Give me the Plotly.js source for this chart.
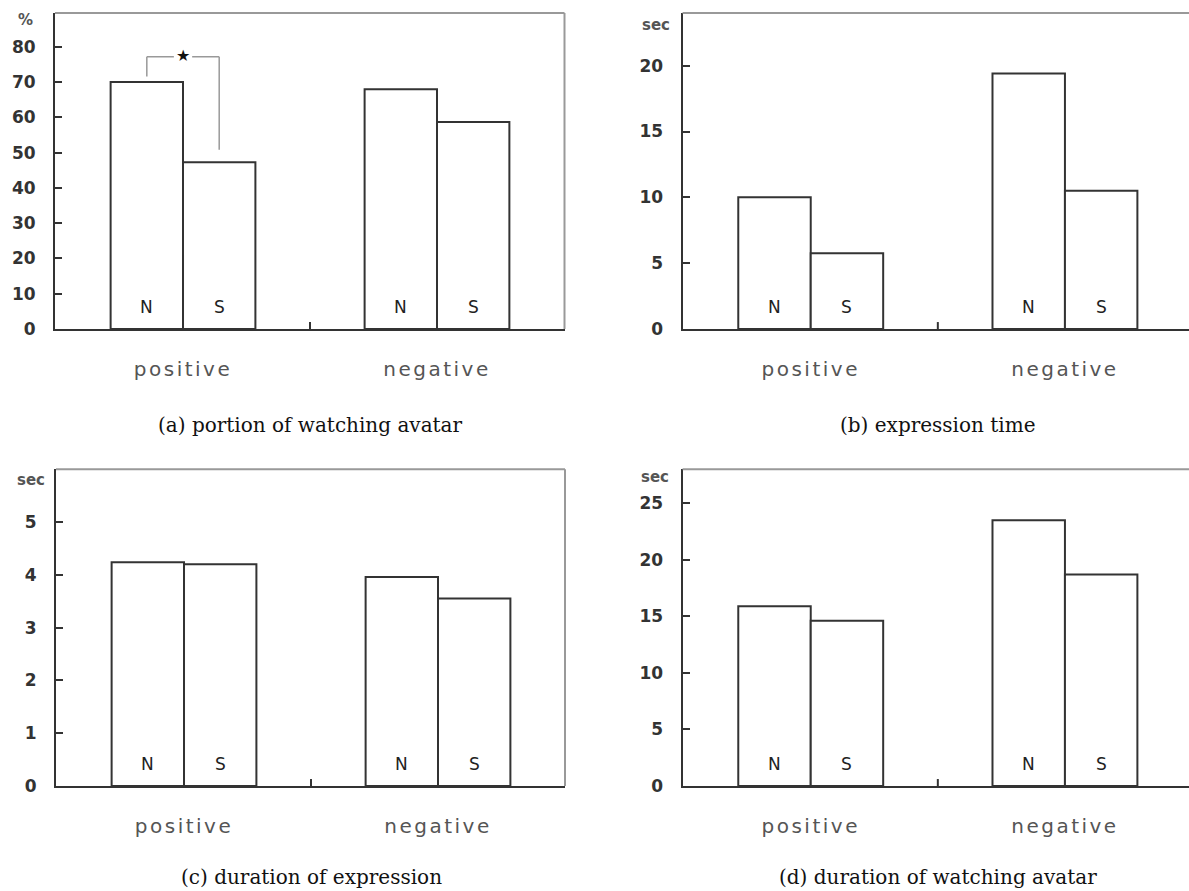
<!DOCTYPE html>
<html>
<head>
<meta charset="utf-8">
<script src="https://cdn.plot.ly/plotly-3.0.1.min.js"></script>
<style>
  html, body { margin: 0; padding: 0; background: #fff; }
  #chart { width: 1189px; height: 891px; }
  .xtick text, .x2tick text, .x3tick text, .x4tick text { letter-spacing: 2.5px; }
</style>
</head>
<body>
<div id="chart"></div>
<script>
// ---- data ----
const categories = ['positive', 'negative'];
const groupLabels = ['N', 'S'];

const portionN = [70.0, 68.0];     // (a) % watching avatar
const portionS = [47.3, 58.7];
const exprTimeN = [10.0, 19.4];    // (b) sec
const exprTimeS = [5.75, 10.5];
const exprDurN = [4.24, 3.96];     // (c) sec
const exprDurS = [4.20, 3.55];
const watchDurN = [15.9, 23.5];    // (d) sec
const watchDurS = [14.6, 18.7];

const unitLabels = ['%', 'sec', 'sec', 'sec'];
const captions = ['(a) portion of watching avatar', '(b) expression time',
                  '(c) duration of expression', '(d) duration of watching avatar'];
const yTicksA = [0, 10, 20, 30, 40, 50, 60, 70, 80];
const yTicksB = [0, 5, 10, 15, 20];
const yTicksC = [0, 1, 2, 3, 4, 5];
const yTicksD = [0, 5, 10, 15, 20, 25];

// ---- layout geometry (pixels) ----
const W = 1189, H = 891;
const BARGAP = 0.43;
const panels = [
  {N: portionN, S: portionS, ticks: yTicksA, xpx: [55, 564.5], ypx: [13, 329], xr: [-0.504, 1.502], yr: [0, 89.6], frameRight: true,
   unit: [25, 20], cap: [310, 425]},
  {N: exprTimeN, S: exprTimeS, ticks: yTicksB, xpx: [682.6, 1189], ypx: [13, 329], xr: [-0.504, 1.488], yr: [0, 24], frameRight: false,
   unit: [656, 25], cap: [938, 425]},
  {N: exprDurN, S: exprDurS, ticks: yTicksC, xpx: [56, 565], ypx: [469.3, 786], xr: [-0.504, 1.5], yr: [0, 6], frameRight: true,
   unit: [31, 480], cap: [311, 877]},
  {N: watchDurN, S: watchDurS, ticks: yTicksD, xpx: [682.6, 1189], ypx: [469.3, 786], xr: [-0.504, 1.488], yr: [0, 28], frameRight: false,
   unit: [655, 477], cap: [938, 877]}
];

const traces = [];
const layout = {
  width: W, height: H,
  margin: {l: 0, r: 0, t: 0, b: 0},
  paper_bgcolor: '#fff', plot_bgcolor: '#fff',
  showlegend: false,
  barmode: 'group', bargap: BARGAP, bargroupgap: 0,
  annotations: [], shapes: []
};

const barStyle = {color: '#ffffff', line: {color: '#333333', width: 2}};

panels.forEach((p, i) => {
  const k = i === 0 ? '' : String(i + 1);
  const xa = 'x' + k, ya = 'y' + k;
  traces.push({type: 'bar', x: categories, y: p.N, name: groupLabels[0], xaxis: xa, yaxis: ya, marker: barStyle, hoverinfo: 'x+y'});
  traces.push({type: 'bar', x: categories, y: p.S, name: groupLabels[1], xaxis: xa, yaxis: ya, marker: barStyle, hoverinfo: 'x+y'});

  layout['xaxis' + k] = {
    domain: [p.xpx[0] / W, p.xpx[1] / W], anchor: ya,
    type: 'category', range: p.xr, fixedrange: true,
    showline: true, linecolor: '#333', linewidth: 2,
    showgrid: false, zeroline: false, ticks: '',
    ticklabelstandoff: 21,
    tickfont: {family: 'DejaVu Sans', size: 20, color: '#555'}
  };
  layout['yaxis' + k] = {
    domain: [1 - p.ypx[1] / H, 1 - p.ypx[0] / H], anchor: xa,
    range: p.yr, fixedrange: true,
    showline: true, linecolor: '#333', linewidth: 2,
    showgrid: false, zeroline: false,
    tickmode: 'array', tickvals: p.ticks,
    ticks: 'inside', ticklen: 7, tickwidth: 2, tickcolor: '#333',
    ticklabelstandoff: 14,
    tickfont: {family: 'DejaVu Sans', size: 17, color: '#333', weight: 'bold'}
  };

  // top / right frame (grey)
  layout.shapes.push({type: 'line', xref: xa + ' domain', yref: ya + ' domain', x0: 0, x1: 1, y0: 1, y1: 1,
                      line: {color: '#999', width: 2}});
  if (p.frameRight) {
    layout.shapes.push({type: 'line', xref: xa + ' domain', yref: ya + ' domain', x0: 1, x1: 1, y0: 0, y1: 1,
                        line: {color: '#999', width: 2}});
  }
  // middle boundary tick
  layout.shapes.push({type: 'line', xref: xa, yref: ya + ' domain', x0: 0.5, x1: 0.5, y0: 0, y1: 0.022,
                      line: {color: '#333', width: 2}});

  // N / S labels inside bars
  const off = (1 - BARGAP) / 4;
  categories.forEach((c, ci) => {
    groupLabels.forEach((g, gi) => {
      layout.annotations.push({xref: xa, yref: ya + ' domain', x: ci + (gi === 0 ? -off : off), y: 0,
        yshift: 22, yanchor: 'middle', xanchor: 'center', showarrow: false, text: g,
        font: {family: 'DejaVu Sans', size: 17, color: '#222'}});
    });
  });

  // unit label
  layout.annotations.push({xref: 'paper', yref: 'paper', x: p.unit[0] / W, y: 1 - p.unit[1] / H,
    xanchor: 'center', yanchor: 'middle', showarrow: false, text: unitLabels[i],
    font: {family: 'DejaVu Sans', size: 15, color: '#555', weight: 'bold'}});
  // caption
  layout.annotations.push({xref: 'paper', yref: 'paper', x: p.cap[0] / W, y: 1 - p.cap[1] / H,
    xanchor: 'center', yanchor: 'middle', showarrow: false, text: captions[i],
    font: {family: 'DejaVu Serif', size: 20, color: '#111'}});
});

// significance bracket in (a)
const off = (1 - BARGAP) / 4;
const brTop = 77.2, brLeftEnd = 71.6, brRightEnd = 50.8, gap = 0.036;
const brLine = {color: '#999', width: 1.5};
layout.shapes.push({type: 'line', xref: 'x', yref: 'y', x0: -off, x1: -off, y0: brLeftEnd, y1: brTop, line: brLine});
layout.shapes.push({type: 'line', xref: 'x', yref: 'y', x0: -off, x1: -gap, y0: brTop, y1: brTop, line: brLine});
layout.shapes.push({type: 'line', xref: 'x', yref: 'y', x0: gap, x1: off, y0: brTop, y1: brTop, line: brLine});
layout.shapes.push({type: 'line', xref: 'x', yref: 'y', x0: off, x1: off, y0: brTop, y1: brRightEnd, line: brLine});
layout.annotations.push({xref: 'x', yref: 'y', x: 0, y: brTop, yshift: 1, showarrow: false, text: '★',
  xanchor: 'center', yanchor: 'middle', font: {family: 'DejaVu Sans', size: 16, color: '#111'}});

Plotly.newPlot('chart', traces, layout, {staticPlot: true, displayModeBar: false});
</script>
</body>
</html>
